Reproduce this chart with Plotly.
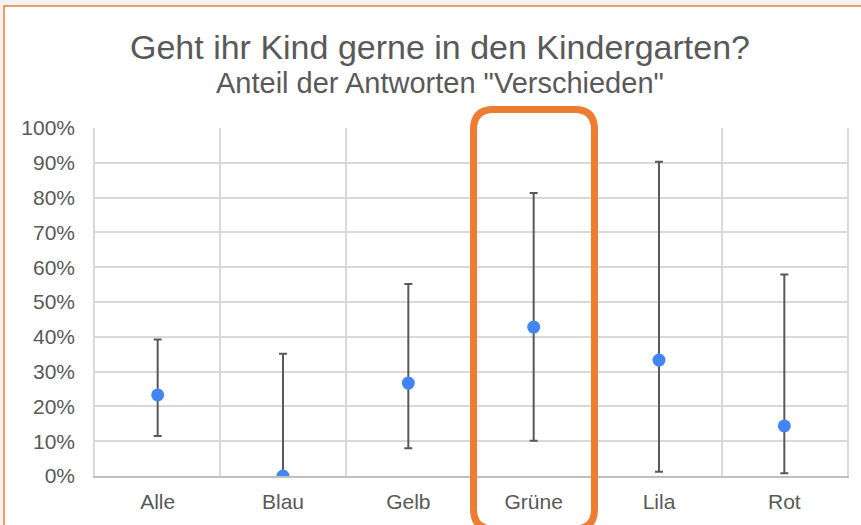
import plotly.graph_objects as go

categories = ["Alle", "Blau", "Gelb", "Grüne", "Lila", "Rot"]
share = [0.233, 0.0, 0.267, 0.428, 0.333, 0.144]
upper = [0.392, 0.351, 0.552, 0.813, 0.903, 0.579]
lower = [0.115, 0.0, 0.080, 0.101, 0.012, 0.008]
y_ticks = [i / 10 for i in range(11)]

err_plus = [u - s for u, s in zip(upper, share)]
err_minus = [s - l for s, l in zip(share, lower)]

W, H = 861, 525
ML, MR, MT, MB = 95, 14, 128, 49
PW, PH = W - ML - MR, H - MT - MB


def px(x):
    return (x - ML) / PW


def py(y):
    return (H - MB - y) / PH


def rounded_rect(x0, y0, x1, y1, r):
    return (
        f"M {px(x0 + r)} {py(y0)} L {px(x1 - r)} {py(y0)} "
        f"Q {px(x1)} {py(y0)} {px(x1)} {py(y0 + r)} "
        f"L {px(x1)} {py(y1 - r)} "
        f"Q {px(x1)} {py(y1)} {px(x1 - r)} {py(y1)} "
        f"L {px(x0 + r)} {py(y1)} "
        f"Q {px(x0)} {py(y1)} {px(x0)} {py(y1 - r)} "
        f"L {px(x0)} {py(y0 + r)} "
        f"Q {px(x0)} {py(y0)} {px(x0 + r)} {py(y0)} Z"
    )


fig = go.Figure()
fig.add_trace(
    go.Scatter(
        x=categories,
        y=share,
        mode="markers",
        marker=dict(color="#4285f4", size=13),
        error_y=dict(
            type="data",
            symmetric=False,
            array=err_plus,
            arrayminus=err_minus,
            color="#595959",
            thickness=2,
            width=4,
        ),
        showlegend=False,
    )
)

fig.update_layout(
    width=W,
    height=H,
    margin=dict(l=ML, r=MR, t=MT, b=MB),
    paper_bgcolor="#f2f2f2",
    plot_bgcolor="rgba(0,0,0,0)",
    font=dict(family="Liberation Sans, Arial, sans-serif", color="#595959"),
    xaxis=dict(
        type="category",
        range=[-0.5, 5.5],
        tickson="boundaries",
        showgrid=True,
        gridcolor="#d9d9d9",
        gridwidth=1.5,
        showline=True,
        linecolor="#bfbfbf",
        linewidth=1.5,
        ticks="",
        tickfont=dict(size=21, color="#595959"),
        ticklabelstandoff=6,
        automargin=False,
        fixedrange=True,
    ),
    yaxis=dict(
        range=[0, 1],
        tickvals=y_ticks,
        tickformat=".0%",
        showgrid=True,
        gridcolor="#d9d9d9",
        gridwidth=1.5,
        zeroline=False,
        showline=True,
        linecolor="#d9d9d9",
        linewidth=1.5,
        mirror=True,
        ticks="",
        tickfont=dict(size=21, color="#595959"),
        ticklabelstandoff=14,
        automargin=False,
        fixedrange=True,
    ),
    shapes=[
        dict(
            type="rect",
            xref="paper",
            yref="paper",
            x0=px(4),
            x1=px(900),
            y0=py(560),
            y1=py(6),
            line=dict(color="#ed7d31", width=1.5),
            fillcolor="white",
            layer="below",
        ),
        dict(
            type="path",
            xref="paper",
            yref="paper",
            path=rounded_rect(473.5, 109.5, 594.5, 529, 20),
            line=dict(color="#ed7d31", width=7),
            fillcolor="rgba(0,0,0,0)",
            layer="above",
        ),
    ],
    annotations=[
        dict(
            text="Geht ihr Kind gerne in den Kindergarten?",
            xref="paper",
            yref="paper",
            x=px(440),
            y=py(47),
            xanchor="center",
            yanchor="middle",
            showarrow=False,
            font=dict(size=34, color="#595959"),
        ),
        dict(
            text='Anteil der Antworten "Verschieden"',
            xref="paper",
            yref="paper",
            x=px(440),
            y=py(83),
            xanchor="center",
            yanchor="middle",
            showarrow=False,
            font=dict(size=29, color="#595959"),
        ),
    ],
)

fig.write_html(
    "out.html",
    config={"displayModeBar": False},
    post_script="document.body.style.margin='0';document.body.style.overflow='hidden';",
)
